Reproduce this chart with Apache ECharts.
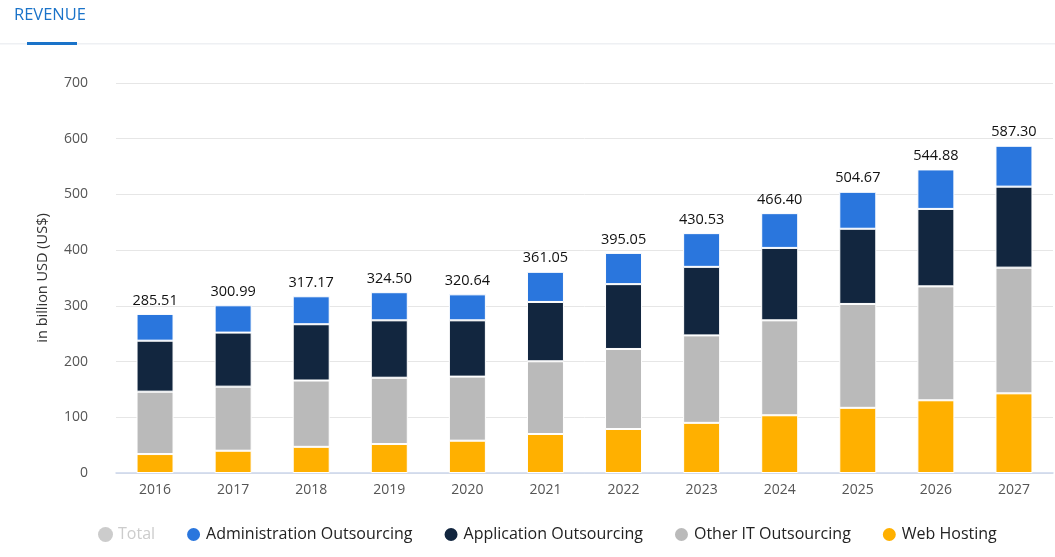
<!DOCTYPE html>
<html>
<head>
<meta charset="utf-8">
<script src="https://cdn.jsdelivr.net/npm/echarts@6/dist/echarts.min.js"></script>
<style>
html,body{margin:0;padding:0;background:#fff;}
#chart{width:1055px;height:557px;}
</style>
</head>
<body>
<div id="chart"></div>
<script>
var years = ['2016','2017','2018','2019','2020','2021','2022','2023','2024','2025','2026','2027'];
var totals = [285.51,300.99,317.17,324.50,320.64,361.05,395.05,430.53,466.40,504.67,544.88,587.30];
var webHosting = [34,40,47,52,58,70,79,90,103.6,117,130.5,143];
var otherIT = [112,115,119,119,115,130.5,143.6,157,170.4,186.4,204.5,225.6];
var appOutsourcing = [91.5,97,101,103,101,106.5,116.4,123,130,135,139,145.4];
var adminOutsourcing = [48.01,48.99,50.17,50.5,46.64,54.05,56.05,60.53,62.4,66.27,70.88,73.3];
var yTicks = [0,100,200,300,400,500,600,700];

var chart = echarts.init(document.getElementById('chart'));
var font = "'Open Sans', 'Noto Sans', sans-serif";
function barSeries(name, data, color, withLabel) {
  var s = {
    name: name, type: 'bar', stack: 'rev', data: data, barWidth: 37,
    itemStyle: {color: color, borderColor: '#ffffff', borderWidth: 1},
    emphasis: {disabled: true}
  };
  if (withLabel) {
    s.label = {
      show: true, position: 'top', distance: 6,
      formatter: function(p){ return totals[p.dataIndex].toFixed(2); },
      color: '#111', fontSize: 14.5, fontFamily: font, fontWeight: 500
    };
  }
  return s;
}
chart.setOption({
  animation: false,
  textStyle: {fontFamily: font},
  graphic: [
    {type: 'text', left: 14, top: 7, style: {text: 'REVENUE', fill: '#1a73c9', font: "500 16.5px 'Open Sans', sans-serif"}},
    {type: 'rect', shape: {x: 0, y: 43, width: 1055, height: 1.5}, style: {fill: '#eef0f3'}},
    {type: 'rect', shape: {x: 27, y: 42, width: 50, height: 3}, style: {fill: '#1a73c9'}}
  ],
  grid: {left: 116, right: 2, top: 83, bottom: 84},
  legend: {
    left: 93, top: 521, itemGap: 30, itemWidth: 15, itemHeight: 15, icon: 'circle',
    textStyle: {fontSize: 16, color: '#222', fontFamily: font},
    inactiveColor: '#cccccc',
    selected: {'Total': false},
    data: ['Total','Administration Outsourcing','Application Outsourcing','Other IT Outsourcing','Web Hosting']
  },
  xAxis: {
    type: 'category', data: years,
    axisLine: {lineStyle: {color: '#ccd6eb', width: 1.5}},
    axisTick: {alignWithLabel: true, length: 6, lineStyle: {color: '#ccd6eb'}},
    axisLabel: {color: '#555', fontSize: 14, margin: 10}
  },
  yAxis: {
    type: 'value', min: yTicks[0], max: yTicks[yTicks.length-1], interval: 100,
    name: 'in billion USD (US$)', nameLocation: 'middle', nameGap: 66,
    nameTextStyle: {color: '#333', fontSize: 14.5},
    axisLine: {show: false}, axisTick: {show: false},
    axisLabel: {color: '#555', fontSize: 14, margin: 28},
    splitLine: {lineStyle: {color: '#e6e6e6'}}
  },
  series: [
    {name: 'Total', type: 'bar', stack: 'none', data: totals, itemStyle: {color: '#cccccc'}, barWidth: 0},
    barSeries('Web Hosting', webHosting, '#ffb000', false),
    barSeries('Other IT Outsourcing', otherIT, '#bababa', false),
    barSeries('Application Outsourcing', appOutsourcing, '#12263f', false),
    barSeries('Administration Outsourcing', adminOutsourcing, '#2a76dd', true)
  ]
});
</script>
</body>
</html>
